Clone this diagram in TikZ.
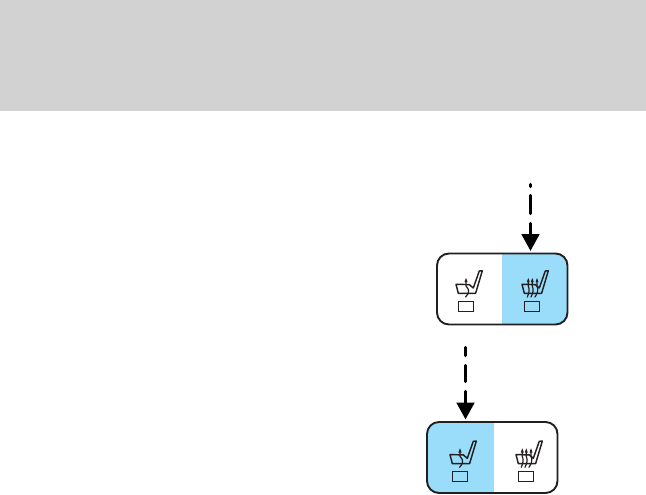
\documentclass[tikz,border=0pt]{standalone}
\usetikzlibrary{arrows.meta}
\definecolor{bandgray}{HTML}{D2D2D2}
\definecolor{panelblue}{HTML}{99DDFA}
\definecolor{inkdark}{HTML}{231F20}
\tikzset{
  panel/.style={draw=inkdark,line width=1.9pt,rounded corners=12pt,minimum width=130.5pt,minimum height=71pt,inner sep=0pt,outer sep=0pt,anchor=north west},
  iconline/.style={draw=inkdark,line width=1.45pt,line join=round,line cap=round},
  iconarrow/.style={draw=inkdark,line width=1.2pt,line cap=round},
  iconbox/.style={draw=inkdark,line width=1pt,fill=none,minimum width=15pt,minimum height=10pt,inner sep=0pt,outer sep=0pt,anchor=north west},
  pointer/.style={line width=3.5pt,line cap=round,black,-{Triangle[length=17pt,width=17.5pt]},shorten >=2.5pt}
}
\newcommand{\seatshape}[1]{%
  \begin{scope}[shift={(#1)}]
    \draw[iconline] (-2.3,-16.7) -- (0,-7.7) -- (17.3,-7.7) -- (24,-30.2) -- (21,-30) -- (15,-13) -- (11,-16.4) -- cycle;
  \end{scope}}
\newcommand{\singlearrow}[1]{%
  \begin{scope}[shift={(#1)}]
    \draw[iconarrow] (7.7,-21) -- (7.7,-15) .. controls (11.5,-11) and (11,-8) .. (7.3,-4);
    \fill[inkdark] (7.7,-23) -- (6.1,-18.8) -- (9.3,-18.8) -- cycle;
  \end{scope}}
\newcommand{\triplearrow}[1]{%
  \begin{scope}[shift={(#1)}]
    \foreach \dx/\ex in {4/3,8/6.7,12.7/10.7}{
      \draw[iconarrow] (\dx,-21) -- (\dx,-15) .. controls (\dx+1.6,-11) and (\dx+0.6,-8) .. (\ex,-4);
      \fill[inkdark] (\dx,-23) -- (\dx-1.5,-18.8) -- (\dx+1.5,-18.8) -- cycle;
    }
  \end{scope}}
\begin{document}
\begin{tikzpicture}[x=1pt,y=-1pt]
  \useasboundingbox (0,0) rectangle (646,495);
  \fill[bandgray] (0,0) rectangle (646,111);

  % upper panel
  \begin{scope}
    \clip[rounded corners=12pt] (437,253.5) rectangle (567.5,324.5);
    \fill[panelblue] (501.7,253) rectangle (568,325);
  \end{scope}
  \node[panel] (panelA) at (437,253.5) {};
  \seatshape{458.3,301}
  \singlearrow{458.3,301}
  \seatshape{524.3,301}
  \triplearrow{524.3,301}
  \node[iconbox] (boxAl) at (458.3,301) {};
  \node[iconbox] (boxAr) at (524.3,301) {};

  % lower panel
  \begin{scope}
    \clip[rounded corners=12pt] (427,422) rectangle (557.5,493);
    \fill[panelblue] (427,422) rectangle (494,493);
  \end{scope}
  \node[panel] (panelB) at (427,422) {};
  \seatshape{452.3,471.3}
  \singlearrow{452.3,471.3}
  \seatshape{518.3,471.3}
  \triplearrow{518.3,471.3}
  \node[iconbox] (boxBl) at (452.3,471.3) {};
  \node[iconbox] (boxBr) at (518.3,471.3) {};

  % pointers
  \coordinate (startA) at (530.5,184.5);
  \coordinate (startB) at (465.5,347.5);
  \draw[pointer,dash pattern=on 2pt off 9pt on 18pt off 10pt on 40pt] (startA) -- (startA |- panelA.north);
  \draw[pointer,dash pattern=on 8pt off 10pt on 16pt off 10pt on 40pt] (startB) -- (startB |- panelB.north);
\end{tikzpicture}
\end{document}
